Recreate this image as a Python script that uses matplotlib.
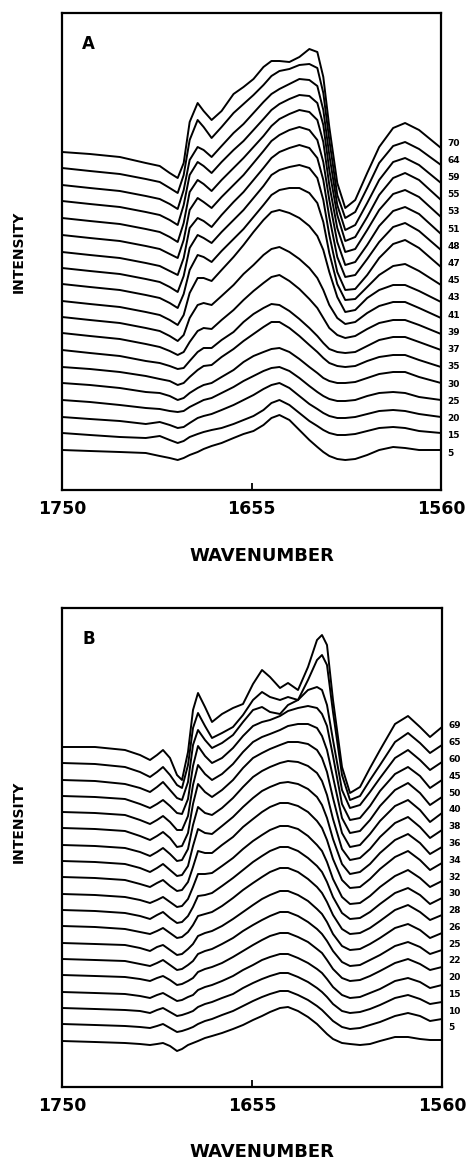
import numpy as np
import matplotlib
matplotlib.use("Agg")
import matplotlib.pyplot as plt

# ---------------- Panel A data ----------------
WN_A = [1750, 1736, 1721, 1708, 1701, 1696, 1692, 1689, 1686, 1682, 1679, 1675,
        1670, 1664, 1659, 1654, 1649, 1645, 1641, 1636, 1631, 1626, 1622, 1619,
        1616, 1612, 1608, 1603, 1597, 1591, 1584, 1578, 1571, 1560]
LABELS_A = ["70", "64", "59", "55", "53", "51", "48", "47", "45", "43",
            "41", "39", "37", "35", "30", "25", "20", "15", "5"]
OFFSETS_A = [338, 322, 305, 289, 272, 255, 238, 222, 206, 189,
             173, 157, 140, 123, 107, 90, 73, 57, 40]

A_70 = [0, -2, -5, -11, -14, -21, -26, -11, 30, 49, 41, 32, 41, 58, 65, 73, 85, 91, 91, 90, 95, 103, 100, 75, 25, -31, -56, -48, -21, 5, 24, 29, 22, 4]
A_64 = [0, -3, -6, -11, -14, -20, -25, -7, 28, 48, 41, 30, 41, 55, 64, 73, 83, 92, 97, 99, 103, 104, 100, 75, 28, -27, -50, -44, -20, 5, 22, 26, 19, 3]
A_59 = [0, -3, -6, -11, -14, -19, -24, -5, 25, 38, 35, 28, 39, 52, 61, 72, 83, 91, 96, 101, 106, 105, 99, 75, 30, -20, -45, -40, -18, 5, 23, 27, 20, 2]
A_55 = [0, -3, -6, -11, -14, -19, -24, -4, 26, 39, 35, 28, 39, 51, 60, 71, 82, 91, 97, 102, 106, 105, 98, 76, 31, -14, -40, -36, -16, 6, 23, 28, 21, 1]
A_53 = [0, -3, -6, -11, -14, -19, -24, -5, 26, 38, 34, 27, 38, 50, 60, 71, 82, 92, 99, 104, 108, 106, 98, 76, 33, -10, -34, -31, -12, 8, 24, 28, 21, 1]
A_51 = [0, -3, -6, -11, -14, -19, -23, -5, 25, 37, 33, 27, 38, 50, 60, 72, 84, 94, 100, 105, 108, 105, 95, 73, 35, -7, -30, -27, -10, 9, 24, 28, 21, 1]
A_48 = [0, -3, -6, -11, -14, -19, -23, -6, 24, 34, 31, 25, 37, 50, 60, 72, 84, 94, 100, 104, 107, 104, 94, 72, 35, -5, -25, -23, -7, 10, 25, 29, 21, 2]
A_47 = [0, -3, -6, -11, -14, -19, -24, -8, 20, 33, 30, 25, 36, 48, 58, 70, 82, 93, 98, 101, 103, 100, 90, 68, 33, -4, -22, -21, -7, 10, 24, 28, 20, 1]
A_45 = [0, -3, -6, -11, -14, -19, -24, -10, 14, 29, 27, 22, 33, 45, 55, 67, 79, 89, 94, 96, 96, 91, 81, 62, 31, 0, -16, -15, -3, 9, 18, 20, 13, -1]
A_43 = [0, -3, -6, -11, -14, -19, -24, -14, 8, 23, 23, 20, 31, 44, 56, 69, 81, 89, 91, 88, 83, 75, 65, 51, 29, 4, -11, -9, 3, 11, 16, 16, 10, -1]
A_41 = [0, -3, -6, -11, -14, -19, -24, -18, -1, 12, 14, 12, 21, 32, 43, 52, 62, 68, 70, 65, 58, 49, 39, 27, 12, -1, -7, -5, 4, 11, 15, 15, 9, -1]
A_39 = [0, -3, -6, -11, -14, -18, -22, -19, -9, 2, 5, 4, 13, 23, 33, 42, 50, 56, 58, 52, 44, 34, 25, 15, 5, -2, -5, -3, 4, 10, 13, 13, 8, -1]
A_37 = [0, -3, -6, -11, -13, -16, -19, -18, -11, -2, 2, 2, 10, 18, 28, 36, 42, 46, 45, 39, 31, 22, 14, 7, 1, -2, -3, -2, 4, 10, 13, 13, 8, 0]
A_35 = [0, -2, -5, -9, -12, -14, -18, -16, -10, -3, 1, 2, 10, 18, 26, 33, 40, 45, 45, 39, 31, 22, 15, 9, 4, 1, 0, 1, 6, 10, 12, 12, 7, 0]
A_30 = [0, -2, -5, -9, -10, -13, -17, -15, -10, -5, -2, 0, 6, 13, 21, 27, 31, 34, 35, 31, 24, 16, 10, 5, 2, 0, 0, 1, 5, 9, 11, 11, 6, 0]
A_25 = [0, -2, -5, -8, -9, -11, -12, -11, -7, -3, 0, 2, 7, 13, 19, 24, 29, 32, 33, 29, 22, 14, 8, 4, 1, -1, -1, 0, 4, 7, 8, 7, 3, 0]
A_20 = [0, -2, -4, -7, -5, -8, -11, -10, -6, -1, 1, 3, 7, 12, 17, 22, 28, 32, 34, 29, 21, 13, 8, 4, 1, -1, -1, 0, 3, 6, 7, 6, 3, 0]
A_15 = [0, -2, -4, -5, -3, -7, -10, -8, -4, -1, 1, 3, 5, 9, 13, 17, 23, 30, 33, 28, 20, 12, 7, 3, 0, -2, -2, -1, 2, 5, 6, 5, 2, 0]
A_5 = [0, -1, -2, -3, -6, -8, -10, -8, -5, -2, 1, 4, 7, 12, 16, 19, 25, 32, 35, 30, 20, 10, 3, -2, -6, -9, -10, -9, -5, 0, 3, 2, 0, 0]

SPECTRA_A = [A_70, A_64, A_59, A_55, A_53, A_51, A_48, A_47, A_45, A_43,
             A_41, A_39, A_37, A_35, A_30, A_25, A_20, A_15, A_5]

# ---------------- Panel B data ----------------
WN_B = [1750, 1733.5, 1718.5, 1711, 1706, 1702.5, 1699.5, 1696, 1692.5, 1690,
        1687, 1684.5, 1682, 1678.5, 1675, 1670, 1664.5, 1659.5, 1654.5, 1650,
        1646, 1641, 1637, 1632, 1627, 1622.5, 1620, 1617.5, 1614.5, 1610,
        1606, 1601, 1596, 1591, 1583.5, 1577, 1571, 1566, 1560]
LABELS_B = ["69", "65", "60", "45", "50", "40", "38", "36", "34", "32",
            "30", "28", "26", "25", "22", "20", "15", "10", "5"]
OFFSETS_B = [340, 324, 307, 291, 275, 259, 242, 226, 210, 193,
             177, 161, 144, 128, 112, 95, 79, 63, 46]

B_69 = [0, 0, -3, -8, -13, -8, -3, -11, -28, -33, -5, 37, 54, 40, 25, 33, 39, 43, 63, 77, 70, 59, 64, 57, 80, 107, 112, 102, 47, -20, -46, -40, -21, -3, 23, 31, 20, 10, 20]
B_65 = [0, -1, -4, -9, -14, -9, -4, -12, -22, -25, -2, 35, 50, 37, 25, 30, 36, 48, 63, 71, 66, 63, 66, 63, 83, 103, 108, 98, 51, -12, -37, -33, -17, -2, 21, 30, 20, 10, 18]
B_60 = [0, -1, -4, -8, -12, -7, -2, -10, -18, -20, -2, 35, 50, 40, 32, 37, 45, 58, 70, 73, 68, 66, 75, 80, 90, 93, 90, 75, 40, -10, -28, -25, -12, 2, 22, 30, 20, 10, 18]
B_45 = [0, -1, -3, -8, -12, -8, -4, -10, -17, -18, -3, 30, 50, 40, 33, 38, 48, 60, 70, 74, 76, 80, 85, 88, 90, 88, 82, 70, 40, -8, -24, -22, -10, 5, 22, 29, 20, 8, 16]
B_50 = [0, -1, -3, -8, -12, -8, -4, -10, -18, -18, -4, 27, 47, 38, 32, 38, 48, 60, 70, 75, 78, 82, 86, 88, 88, 84, 76, 62, 35, -6, -21, -19, -8, 6, 22, 29, 19, 7, 15]
B_40 = [0, -1, -3, -8, -12, -8, -4, -10, -19, -18, -5, 24, 44, 36, 31, 38, 48, 60, 70, 75, 79, 83, 86, 86, 84, 78, 70, 56, 30, -5, -19, -17, -6, 7, 22, 28, 18, 6, 15]
B_38 = [0, -1, -3, -7, -11, -7, -3, -9, -16, -15, -4, 20, 38, 32, 30, 37, 47, 58, 68, 74, 78, 82, 84, 83, 79, 72, 64, 50, 26, -4, -15, -13, -4, 8, 22, 28, 18, 7, 15]
B_36 = [0, -1, -3, -7, -11, -7, -3, -9, -15, -14, -5, 15, 32, 28, 27, 35, 44, 54, 63, 70, 74, 78, 79, 77, 72, 64, 56, 43, 22, -3, -13, -11, -3, 8, 21, 27, 18, 7, 14]
B_34 = [0, -1, -3, -7, -10, -6, -3, -9, -14, -13, -5, 10, 26, 24, 24, 32, 40, 50, 58, 65, 70, 74, 74, 71, 65, 56, 49, 37, 18, -3, -11, -10, -2, 8, 20, 26, 17, 7, 14]
B_32 = [0, -1, -3, -6, -9, -6, -3, -8, -13, -12, -5, 7, 20, 20, 21, 28, 36, 45, 53, 59, 64, 68, 68, 65, 58, 49, 43, 32, 15, -3, -10, -9, -2, 7, 18, 24, 16, 7, 13]
B_30 = [0, -1, -3, -6, -9, -5, -2, -8, -13, -12, -6, 3, 14, 15, 17, 24, 32, 40, 48, 54, 59, 63, 63, 59, 52, 44, 38, 28, 13, -3, -9, -8, -2, 6, 17, 22, 15, 6, 12]
B_28 = [0, -1, -3, -6, -8, -5, -2, -7, -12, -11, -6, 1, 10, 12, 14, 20, 28, 36, 43, 49, 54, 58, 58, 54, 47, 39, 33, 24, 11, -3, -8, -7, -2, 5, 16, 21, 14, 6, 11]
B_26 = [0, -1, -2, -5, -8, -4, -2, -7, -12, -11, -6, -1, 7, 10, 12, 17, 24, 31, 38, 44, 48, 52, 52, 48, 42, 34, 29, 21, 9, -3, -7, -6, -1, 5, 15, 19, 13, 5, 10]
B_25 = [0, -1, -2, -5, -7, -4, -1, -6, -11, -10, -6, -2, 5, 8, 10, 15, 21, 28, 34, 39, 43, 47, 47, 43, 37, 30, 25, 18, 8, -3, -7, -6, -1, 4, 13, 17, 12, 5, 9]
B_22 = [0, -1, -2, -4, -6, -3, -1, -5, -10, -9, -6, -3, 3, 6, 8, 12, 18, 24, 30, 35, 39, 42, 42, 38, 33, 26, 22, 15, 6, -3, -6, -5, -1, 4, 12, 16, 11, 5, 8]
B_20 = [0, -1, -2, -4, -6, -3, -1, -5, -9, -8, -5, -3, 2, 5, 7, 11, 16, 22, 27, 32, 35, 38, 38, 34, 29, 23, 19, 13, 5, -3, -6, -5, -1, 3, 11, 14, 10, 4, 7]
B_15 = [0, -1, -2, -3, -5, -2, 0, -4, -8, -7, -5, -3, 1, 4, 6, 10, 14, 20, 25, 29, 32, 35, 35, 31, 26, 20, 16, 11, 4, -3, -5, -4, -1, 3, 10, 13, 9, 4, 6]
B_10 = [0, -1, -2, -3, -4, -2, 0, -4, -8, -7, -5, -3, 0, 3, 5, 9, 13, 18, 23, 27, 30, 33, 33, 29, 24, 18, 14, 9, 3, -3, -5, -4, -1, 2, 8, 11, 8, 3, 5]
B_5 = [0, -1, -2, -3, -4, -3, -2, -5, -10, -8, -4, -2, 0, 3, 5, 8, 12, 16, 21, 25, 29, 33, 34, 30, 24, 17, 12, 7, 2, -2, -3, -4, -3, 0, 4, 4, 2, 1, 1]

SPECTRA_B = [B_69, B_65, B_60, B_45, B_50, B_40, B_38, B_36, B_34, B_32,
             B_30, B_28, B_26, B_25, B_22, B_20, B_15, B_10, B_5]

XTICKS = [1750, 1655, 1560]

# ---------------- figure ----------------
W, H = 469, 1160
fig = plt.figure(figsize=(W / 100, H / 100), dpi=100)
FONT = "DejaVu Sans"


def px_axes(l, t, r, b):
    return fig.add_axes([l / W, 1 - b / H, (r - l) / W, (b - t) / H])


def draw_panel(ax, wn, spectra, offsets, labels, ymax, letter, lab_top, lab_bot):
    for spec, off in zip(spectra, offsets):
        ax.plot(wn, np.array(spec) + off, color="black", lw=1.4,
                solid_joinstyle="round", solid_capstyle="round")
    ax.set_xlim(1750, 1560)
    ax.set_ylim(0, ymax)
    ax.set_yticks([])
    ax.set_xticks(XTICKS)
    ax.set_xticklabels([str(t) for t in XTICKS], fontsize=12.5,
                       fontweight="bold", family=FONT)
    ax.tick_params(axis="x", direction="in", length=5, width=1.3, pad=7,
                   top=False)
    for s in ax.spines.values():
        s.set_linewidth(1.6)
        s.set_color("black")
    ax.text(0.07, 0.935, letter, transform=ax.transAxes, fontsize=12,
            fontweight="bold", family=FONT, va="center", ha="center")
    ys = np.linspace(lab_top, lab_bot, len(labels))
    for lab, yy in zip(labels, ys):
        ax.text(1.017, yy, lab, transform=ax.transAxes, fontsize=6.5,
                fontweight="bold", family=FONT, va="center", ha="left")


axA = px_axes(62, 13, 441, 490)
draw_panel(axA, WN_A, SPECTRA_A, OFFSETS_A, LABELS_A, 477, "A",
           (490 - 143) / 477, (490 - 453) / 477)

axB = px_axes(62, 608, 442, 1087)
draw_panel(axB, WN_B, SPECTRA_B, OFFSETS_B, LABELS_B, 479, "B",
           (1087 - 726) / 479, (1087 - 1028) / 479)

for yc in (556, 1152):
    fig.text(262 / W, 1 - yc / H, "WAVENUMBER", fontsize=13, fontweight="bold",
             family=FONT, ha="center", va="center")
for yc in (252, 822):
    fig.text(19 / W, 1 - yc / H, "INTENSITY", fontsize=10, fontweight="bold",
             family=FONT, ha="center", va="center", rotation=90)

fig.savefig("out.png", dpi=100)
